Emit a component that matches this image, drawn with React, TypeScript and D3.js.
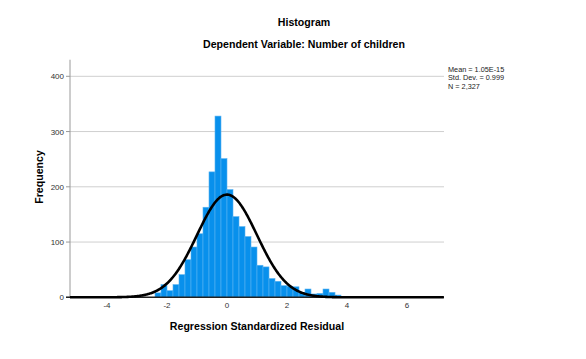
import React from "react";
import * as d3 from "d3";

const binStarts = [-2.4,-2.2,-2.0,-1.8,-1.6,-1.4,-1.2,-1.0,-0.8,-0.6,-0.4,-0.2,0.0,0.2,0.4,0.6,0.8,1.0,1.2,1.4,1.6,1.8,2.0,2.2,2.4,2.6,2.8,3.0,3.2,3.4,3.6];
const counts = [8,23,12,23,41,68,91,115,163,227,328,251,195,146,128,110,91,58,55,34,29,21,20,19,9,15,6,7,15,9,4];
const binWidth = 0.2;
const xTicks = [-4,-2,0,2,4,6];
const yTicks = [0,100,200,300,400];
const mean = 1.05e-15;
const sd = 0.999;
const n = 2327;
const legendLines = ["Mean = 1.05E-15", "Std. Dev. = 0.999", "N = 2,327"];

export default function App() {
  const W = 586, H = 359;
  const left = 70, right = 444, bottom = 297.3;
  const x = d3.scaleLinear().domain([-5.233, 7.233]).range([left, right]);
  const y = d3.scaleLinear().domain([0, 400]).range([bottom, 76.3]);
  const top = y(430);
  const pdf = (v: number) => (n * binWidth) * Math.exp(-0.5 * ((v - mean) / sd) ** 2) / (sd * Math.sqrt(2 * Math.PI));
  const curvePts = d3.range(-5.233, 7.233, 0.02).map(v => [v, pdf(v)] as [number, number]);
  const line = d3.line<[number, number]>().x(d => x(d[0])).y(d => y(d[1])).curve(d3.curveLinear);
  const font = "'Liberation Sans', Arial, sans-serif";
  return (
    <svg width={W} height={H} style={{ position: "absolute", left: 0, top: 0, background: "#fff" }} fontFamily={font}>
      <text x={304} y={26} textAnchor="middle" fontSize={10.6} fontWeight="bold" fill="#000">Histogram</text>
      <text x={304} y={48} textAnchor="middle" fontSize={10.6} fontWeight="bold" fill="#000">Dependent Variable: Number of children</text>
      {yTicks.filter(t => t > 0).map(t => (
        <line key={"g" + t} x1={left} x2={right} y1={y(t)} y2={y(t)} stroke="#cfcfcf" strokeWidth={1} />
      ))}
      {binStarts.map((b, i) => (
        <rect key={"b" + i} x={x(b)} y={y(counts[i])} width={x(b + binWidth) - x(b)} height={y(0) - y(counts[i])}
          fill="#0890ec" stroke="#5ab3f2" strokeWidth={0.6} />
      ))}
      <line x1={left} x2={left} y1={top} y2={bottom} stroke="#9a9a9a" strokeWidth={1} />
      {yTicks.map(t => (
        <g key={"y" + t}>
          <line x1={left - 4} x2={left} y1={y(t)} y2={y(t)} stroke="#9a9a9a" />
          <text x={left - 6} y={y(t) + 3} textAnchor="end" fontSize={8} fill="#333">{t}</text>
        </g>
      ))}
      <line x1={left - 4} x2={right} y1={bottom} y2={bottom} stroke="#222" strokeWidth={1.5} />
      {xTicks.map(t => (
        <text key={"x" + t} x={x(t)} y={bottom + 11} textAnchor="middle" fontSize={8} fill="#333">{t}</text>
      ))}
      <path d={line(curvePts) || ""} fill="none" stroke="#000" strokeWidth={2.6} />
      <text x={257} y={330} textAnchor="middle" fontSize={10.6} fontWeight="bold" fill="#000">Regression Standardized Residual</text>
      <text transform={`translate(43,${177}) rotate(-90)`} textAnchor="middle" fontSize={10.6} fontWeight="bold" fill="#000">Frequency</text>
      {legendLines.map((s, i) => (
        <text key={"l" + i} x={448} y={72 + i * 8.3} fontSize={7.3} fill="#222">{s}</text>
      ))}
    </svg>
  );
}
